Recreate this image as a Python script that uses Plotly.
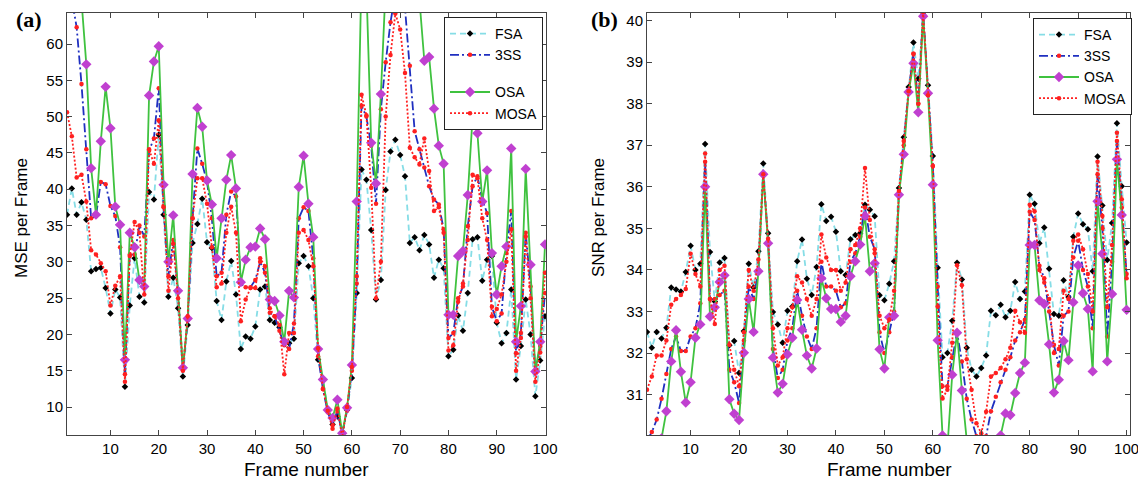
import plotly.graph_objects as go

frames = list(range(1, 101))

mse_fsa = [36.5, 40.1, 36.5, 38.2, 35.8, 28.7, 29.0, 29.2, 26.4, 22.9,
           26.2, 25.1, 12.8, 24.0, 30.5, 25.2, 24.4, 39.6, 38.6, 47.5,
           36.5, 25.2, 27.8, 23.6, 14.2, 21.3, 32.6, 35.2, 38.7, 32.7,
           31.9, 24.6, 22.0, 27.3, 30.1, 25.5, 18.0, 19.7, 19.4, 21.1,
           26.2, 26.6, 22.0, 21.6, 21.0, 19.0, 18.8, 19.4, 29.8, 30.8,
           29.4, 25.0, 16.5, 13.8, 9.6, 7.6, 8.7, 6.6, 9.6, 14.0,
           25.7, 42.7, 41.3, 34.4, 24.8, 27.5, 39.9, 45.2, 46.8, 44.7,
           41.8, 32.6, 33.4, 31.6, 33.7, 32.4, 27.8, 30.3, 29.1, 17.0,
           17.9, 22.6, 20.5, 25.7, 33.1, 33.4, 27.4, 30.3, 30.8, 21.6,
           18.8, 20.2, 26.2, 13.8, 18.4, 24.8, 20.0, 11.5, 16.4, 22.5]

mse_3ss = [70, 66, 62.3, 54.5, 45.5, 36.0, 36.3, 41.0, 40.7, 37.7,
           36.3, 32.0, 14.5, 31.0, 31.0, 35.0, 33.5, 45.3, 47.0, 53.9,
           37.7, 28.0, 33.0, 26.0, 15.2, 22.0, 36.0, 45.6, 43.5, 41.0,
           36.0, 28.0, 28.5, 36.5, 39.7, 39.0, 27.0, 26.5, 26.5, 27.5,
           30.0, 28.5, 23.0, 22.5, 20.5, 18.5, 18.0, 21.5, 36.0, 37.5,
           37.0, 30.5, 17.0, 12.5, 9.3, 7.5, 9.5, 6.3, 9.5, 15.0,
           27.0, 51.5, 50.0, 46.0, 38.0, 51.0, 57.5, 63.0, 67.0, 68.0,
           65.0, 57.0, 48.0, 45.5, 43.0, 40.4, 38.6, 37.9, 34.5, 19.5,
           20.2, 25.0, 26.6, 34.9, 40.4, 41.8, 38.6, 36.7, 23.8, 21.8,
           22.9, 31.2, 37.0, 17.4, 20.2, 34.0, 26.6, 14.7, 18.4, 25.7]

mse_osa = [72, 70, 68, 66, 57.2, 42.9, 36.5, 46.6, 54.1, 48.4,
           37.6, 35.1, 16.5, 34.0, 32.0, 27.5, 26.6, 52.9, 57.6, 59.7,
           40.6, 30.0, 36.4, 26.0, 15.4, 22.2, 42.1, 51.2, 48.6, 41.2,
           37.9, 30.5, 36.0, 41.3, 44.7, 40.1, 27.2, 30.3, 32.0, 32.1,
           34.6, 33.1, 24.8, 24.6, 22.6, 19.0, 26.0, 25.1, 40.3, 44.6,
           38.0, 33.4, 18.0, 13.8, 9.6, 8.5, 11.0, 6.4, 9.9, 15.8,
           38.3, 70, 68, 46.4, 40.8, 53.1, 68, 72, 75, 76,
           75, 72, 70, 66, 57.7, 58.2, 51.1, 46.0, 43.5, 22.7,
           22.7, 30.8, 31.5, 39.2, 50.0, 47.7, 38.3, 42.6, 31.2, 25.5,
           29.4, 32.1, 45.6, 19.0, 23.9, 42.8, 29.6, 14.9, 19.0, 32.4]

mse_mosa = [50.6, 47.3, 41.6, 42.0, 38.3, 31.6, 31.0, 29.8, 28.7, 24.0,
            26.7, 28.0, 13.5, 30.8, 35.5, 34.0, 25.5, 45.5, 43.5, 49.5,
            37.5, 26.0, 32.5, 25.0, 15.0, 22.5, 36.0, 41.5, 41.5, 38.0,
            32.0, 26.5, 27.0, 34.0, 37.6, 34.0, 21.8, 24.8, 26.4, 26.4,
            30.5, 29.4, 23.6, 22.5, 21.3, 14.5, 20.2, 20.2, 34.0, 34.4,
            33.0, 29.4, 18.1, 12.5, 9.5, 7.0, 9.8, 5.8, 10.0, 15.5,
            28.0, 53.0, 50.2, 40.2, 25.0, 30.0, 50.0, 58.5, 64.2, 62.0,
            56.0, 45.7, 44.4, 43.4, 47.0, 42.5, 37.0, 37.5, 34.0, 17.8,
            18.5, 24.5, 27.0, 33.0, 42.0, 41.5, 36.0, 33.0, 22.5, 23.5,
            25.5, 30.0, 34.5, 15.0, 19.5, 33.5, 25.0, 13.5, 17.5, 28.5]

snr_fsa = [32.51, 32.13, 32.51, 32.35, 32.61, 33.58, 33.53, 33.48, 33.95, 34.58,
           34.0, 34.15, 37.03, 34.43, 33.24, 34.18, 34.29, 32.19, 32.29, 31.52,
           32.53, 34.15, 33.58, 34.45, 36.56, 34.88, 32.99, 32.69, 32.25, 33.02,
           33.12, 34.21, 34.73, 33.79, 33.4, 34.07, 35.58, 35.18, 35.28, 34.92,
           33.97, 33.88, 34.74, 34.84, 34.88, 35.57, 35.45, 35.29, 33.39, 33.27,
           33.67, 34.21, 35.97, 37.19, 38.4, 39.47, 38.6, 40.15, 38.44, 36.74,
           34.05, 31.9, 32.0, 32.78, 34.17, 33.77, 32.13, 31.6, 31.44, 31.64,
           31.94, 33.02, 32.91, 33.16, 32.86, 33.02, 33.71, 33.3, 33.48, 35.81,
           35.59, 34.64, 35.02, 34.03, 32.94, 32.9, 33.75, 33.35, 34.8, 35.36,
           35.1, 34.98, 33.97, 36.73, 35.55, 34.24, 35.13, 37.53, 36.01, 34.66]

snr_3ss = [29.9, 30.1, 30.4, 30.9, 31.5, 32.1, 32.4, 32.05, 32.05, 32.4,
           32.6, 33.2, 36.6, 33.3, 33.3, 33.4, 33.5, 31.6, 31.3, 30.8,
           32.3, 33.6, 33.3, 34.0, 36.3, 34.7, 32.1, 31.4, 31.6, 32.3,
           32.6, 33.5, 32.9, 32.4, 32.1, 32.6, 34.2, 33.6, 33.6, 33.5,
           33.1, 33.2, 34.2, 34.4, 34.8, 35.5, 34.8, 34.5, 32.5, 32.0,
           32.5, 33.0, 35.8, 37.0, 38.3, 39.2, 38.0, 40.2, 38.3, 36.5,
           33.6, 31.2, 31.2, 31.9, 32.5, 31.8, 30.9, 30.4, 30.0, 29.9,
           30.0, 30.6, 30.95, 31.3, 31.6, 31.9, 32.3, 32.5, 32.8, 35.4,
           35.2, 34.1, 33.8, 33.0, 32.2, 31.7, 32.9, 33.0, 34.3, 34.7,
           34.0, 33.6, 32.6, 36.3, 35.0, 32.4, 34.2, 37.1, 35.5, 33.9]

snr_osa = [29.0, 29.2, 29.5, 29.95, 30.6, 31.8, 32.55, 31.55, 30.81, 31.3,
           32.37, 32.69, 36.0, 32.88, 33.1, 33.71, 33.87, 30.89, 30.54, 30.39,
           32.01, 33.3, 32.51, 33.97, 36.3, 34.64, 31.89, 31.05, 31.26, 31.97,
           32.37, 33.28, 32.56, 31.94, 31.63, 32.11, 33.8, 33.32, 33.06, 33.06,
           32.75, 32.9, 33.85, 34.21, 34.61, 35.3, 33.97, 34.16, 32.09, 31.63,
           32.86, 32.9, 35.81, 36.78, 38.28, 38.97, 37.79, 40.1, 38.25, 36.05,
           32.31, 30.02, 29.7, 31.48, 32.49, 31.1, 29.9, 29.2, 29.0, 29.0,
           29.2, 29.4, 29.7, 30.02, 30.55, 30.51, 31.04, 31.52, 31.77, 34.6,
           34.6, 33.27, 33.18, 32.21, 31.05, 31.36, 32.29, 31.83, 33.22, 34.11,
           33.44, 33.06, 31.56, 35.65, 34.39, 31.8, 33.42, 36.66, 35.32, 33.04]

snr_mosa = [31.12, 31.44, 31.94, 31.94, 32.3, 33.16, 33.3, 33.4, 33.54, 34.39,
            33.9, 33.6, 36.8, 33.3, 32.7, 34.0, 34.1, 32.2, 31.6, 31.2,
            32.5, 34.0, 33.5, 34.25, 36.3, 34.75, 32.6, 31.7, 31.9, 32.6,
            33.1, 33.85, 33.7, 33.3, 32.9, 33.3, 34.85, 34.3, 34.0, 34.0,
            33.5, 33.7, 34.5, 34.6, 35.0, 36.45, 35.2, 34.4, 32.9, 32.6,
            32.8, 33.5, 35.9, 37.1, 38.3, 39.2, 38.0, 40.2, 38.2, 36.5,
            33.12, 30.91, 31.12, 32.25, 34.11, 33.63, 31.85, 31.12, 30.31, 30.07,
            30.59, 31.44, 31.52, 31.64, 31.85, 32.13, 33.02, 32.74, 32.49, 35.57,
            35.41, 34.0, 33.7, 33.3, 32.0, 32.1, 33.5, 33.3, 34.7, 34.85,
            34.5, 33.9, 33.0, 36.6, 35.3, 33.1, 34.6, 37.3, 35.7, 33.8]

series_names = ["FSA", "3SS", "OSA", "MOSA"]
x_ticks = [10, 20, 30, 40, 50, 60, 70, 80, 90, 100]
mse_ticks = [10, 15, 20, 25, 30, 35, 40, 45, 50, 55, 60]
snr_ticks = [31, 32, 33, 34, 35, 36, 37, 38, 39, 40]

for s in (mse_fsa, mse_3ss, mse_osa, mse_mosa, snr_fsa, snr_3ss, snr_osa, snr_mosa):
    assert len(s) == 100, len(s)

# The page body keeps its default 8px margin, so the figure is sized to fit
# inside it and positions below are given in window pixels minus that offset.
OFF = 8
W, H = 1146 - 2 * OFF, 493 - 2 * OFF
MT = 13 - OFF
MB = H - (435 - OFF)
PH = H - MT - MB


def px(p):
    return (p - OFF) / W


def py(p):
    return (H - MB - (p - OFF)) / PH


styles = {
    "FSA": dict(line=dict(color="#86dde6", width=1.8, dash="6px,4px"),
                marker=dict(symbol="diamond", size=5, color="black")),
    "3SS": dict(line=dict(color="#1f2fc0", width=1.8, dash="9px,3px,2px,3px"),
                marker=dict(symbol="circle", size=4.5, color="#ff2020")),
    "OSA": dict(line=dict(color="#3fc23f", width=1.8),
                marker=dict(symbol="diamond", size=8, color="#c040d0")),
    "MOSA": dict(line=dict(color="#ff2020", width=1.8, dash="2px,2px"),
                 marker=dict(symbol="circle", size=4.5, color="#ff2020")),
}

fig = go.Figure()
left = [mse_fsa, mse_3ss, mse_osa, mse_mosa]
right = [snr_fsa, snr_3ss, snr_osa, snr_mosa]
for name, ys in zip(series_names, left):
    grp = "a1" if name in ("FSA", "3SS") else "a2"
    fig.add_trace(go.Scatter(x=frames, y=ys, name=name, mode="lines+markers",
                             xaxis="x", yaxis="y", legend="legend",
                             legendgroup=grp, **styles[name]))
for name, ys in zip(series_names, right):
    fig.add_trace(go.Scatter(x=frames, y=ys, name=name, mode="lines+markers",
                             xaxis="x2", yaxis="y2", legend="legend2",
                             legendgroup="b", **styles[name]))

tick_font = dict(family="Liberation Sans Narrow, Arial Narrow, Liberation Sans, sans-serif",
                 size=15, color="black")
common = dict(showline=True, linecolor="#444", linewidth=1, mirror="ticks",
              ticks="inside", ticklen=5, tickcolor="#444", showgrid=False,
              zeroline=False, tickfont=tick_font, automargin=False,
              ticklabeloverflow="allow")

fig.update_layout(
    width=W, height=H,
    margin=dict(l=0, r=0, t=MT, b=MB, pad=0),
    paper_bgcolor="white", plot_bgcolor="white",
    xaxis=dict(domain=[px(67), px(546)], range=[1, 100.2], tickvals=x_ticks,
               anchor="y", **common),
    yaxis=dict(domain=[0, 1], range=[6.15, 64.27], tickvals=mse_ticks,
               anchor="x", **common),
    xaxis2=dict(domain=[px(647), px(1130)], range=[1, 100.7], tickvals=x_ticks,
                anchor="y2", **common),
    yaxis2=dict(domain=[0, 1], range=[30.03, 40.18], tickvals=snr_ticks,
                anchor="x2", **common),
    legend=dict(x=px(444), y=py(17), xanchor="left", yanchor="top",
                bordercolor="#222", borderwidth=1, bgcolor="white",
                font=dict(family="Liberation Sans, Arial, sans-serif", size=14, color="black"),
                tracegroupgap=16, itemwidth=40, traceorder="grouped"),
    legend2=dict(x=px(1033), y=py(18), xanchor="left", yanchor="top",
                 bordercolor="#222", borderwidth=1, bgcolor="white",
                 font=dict(family="Liberation Sans, Arial, sans-serif", size=14, color="black"),
                 tracegroupgap=0, itemwidth=40),
    showlegend=True,
)

ann_common = dict(xref="paper", yref="paper", showarrow=False,
                  xanchor="center", yanchor="middle")
label_font = dict(family="Liberation Serif, Times New Roman, serif", size=22, color="black")
ytitle_font = dict(family="Liberation Sans, Arial, sans-serif", size=17, color="black")
xtitle_font = dict(family="Liberation Sans Narrow, Arial Narrow, Liberation Sans, sans-serif",
                   size=19, color="black")
fig.add_annotation(text="<b>(a)</b>", x=px(29), y=py(19), font=label_font, **ann_common)
fig.add_annotation(text="<b>(b)</b>", x=px(604), y=py(19), font=label_font, **ann_common)
fig.add_annotation(text="MSE per Frame", x=px(22), y=py(218), textangle=-90,
                   font=ytitle_font, **ann_common)
fig.add_annotation(text="SNR per Frame", x=px(599), y=py(218), textangle=-90,
                   font=ytitle_font, **ann_common)
fig.add_annotation(text="Frame number", x=px(306), y=py(470), font=xtitle_font, **ann_common)
fig.add_annotation(text="Frame number", x=px(889), y=py(470), font=xtitle_font, **ann_common)

fig.write_html("out.html")
